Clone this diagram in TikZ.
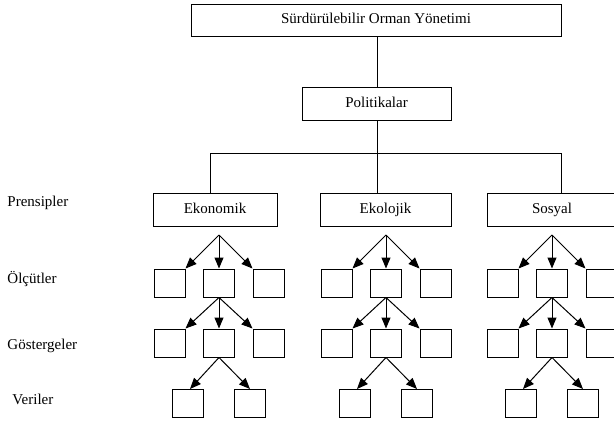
\documentclass[tikz,border=0pt]{standalone}
\usepackage{fontspec}
\setmainfont{Liberation Serif}
\usetikzlibrary{arrows.meta,calc}
\begin{document}
\begin{tikzpicture}[x=1pt,y=-1pt, line width=1pt,
  txt/.style={font=\fontsize{15}{18}\selectfont},
  box/.style={draw, inner sep=0pt, txt, text height=10.5pt, text depth=3.5pt},
  sbox/.style={draw, inner sep=0pt, minimum width=31pt, minimum height=28pt},
  lbl/.style={anchor=west, inner sep=0pt, txt, text height=10.5pt, text depth=3.5pt},
  arr/.style={-{Triangle[length=11pt,width=9pt]}}]
\useasboundingbox (0,0) rectangle (614,423);
\clip (0,0) rectangle (614,423);

\node[box, minimum width=370pt, minimum height=32pt] (top) at (376,20) {Sürdürülebilir Orman Yönetimi};
\node[box, minimum width=149pt, minimum height=33pt] (pol) at (376.5,103.5) {Politikalar};

\node[box, minimum width=124pt, minimum height=33pt] (eko) at (215,209.5) {Ekonomik};
\node[box, minimum width=131pt, minimum height=33pt] (ekl) at (385.5,209.5) {Ekolojik};
\node[box, minimum width=130pt, minimum height=33pt] (sos) at (552,209.5) {Sosyal};

\coordinate (j) at (377,153);
\coordinate (ja) at (210,153);
\coordinate (jc) at (561,153);

\draw (top.south -| j) -- (pol.north -| j);
\draw (pol.south -| j) -- (j);
\draw (ja) -- (jc);
\draw (ja) -- (ja |- eko.north);
\draw (j) -- (j |- ekl.north);
\draw (jc) -- (jc |- sos.north);

\node[lbl] (l1) at (7,203) {Prensipler};
\node[lbl] (l2) at (7,280) {Ölçütler};
\node[lbl] (l3) at (7,346) {Göstergeler};
\node[lbl] (l4) at (12,401) {Veriler};

\foreach \g/\cx in {1/219, 2/386, 3/552} {
  \coordinate (s\g) at (\cx,235);
  \foreach \i/\dx in {1/-49.5, 2/0, 3/49.5} {
    \node[sbox] (o\g\i) at (\cx+\dx,283) {};
    \node[sbox] (g\g\i) at (\cx+\dx,343) {};
  }
  \node[sbox] (v\g1) at (\cx-31,403.5) {};
  \node[sbox] (v\g2) at (\cx+31,403.5) {};
  \draw[arr] (s\g) -- (o\g1.north east);
  \draw[arr] (s\g) -- (o\g2.north);
  \draw[arr] (s\g) -- (o\g3.north west);
  \draw[arr] (o\g2.south) -- (g\g1.north east);
  \draw[arr] (o\g2.south) -- (g\g2.north);
  \draw[arr] (o\g2.south) -- (g\g3.north west);
  \draw[arr] (g\g2.south) -- ($(v\g1.north)+(2,0)$);
  \draw[arr] (g\g2.south) -- (v\g2.north);
}
\end{tikzpicture}
\end{document}
